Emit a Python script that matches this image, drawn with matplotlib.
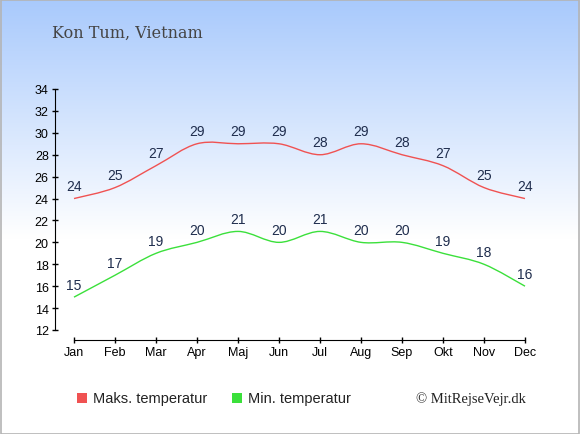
import numpy as np
import matplotlib
matplotlib.use("Agg")
import matplotlib.pyplot as plt
from matplotlib.path import Path
from matplotlib.patches import PathPatch, Rectangle

months = ["Jan", "Feb", "Mar", "Apr", "Maj", "Jun", "Jul", "Aug", "Sep", "Okt", "Nov", "Dec"]
max_temp = [24, 25, 27, 29, 29, 29, 28, 29, 28, 27, 25, 24]
min_temp = [15, 17, 19, 20, 21, 20, 21, 20, 20, 19, 18, 16]
y_ticks = list(range(12, 35, 2))

W, H = 580, 435
RED = "#f05252"
GREEN = "#3be03b"
LABEL_COLOR = "#1f2d4d"


def smooth_path(xs, ys, t=1 / 6):
    # catmull-rom style bezier through the data points
    pts = np.column_stack([xs, ys]).astype(float)
    n = len(pts)
    verts = [pts[0]]
    codes = [Path.MOVETO]
    for i in range(n - 1):
        p0 = pts[max(i - 1, 0)]
        p1 = pts[i]
        p2 = pts[i + 1]
        p3 = pts[min(i + 2, n - 1)]
        c1 = p1 + (p2 - p0) * t
        c2 = p2 - (p3 - p1) * t
        verts += [c1, c2, p2]
        codes += [Path.CURVE4] * 3
    return Path(verts, codes)


fig = plt.figure(figsize=(W / 100, H / 100), dpi=100)

# background gradient
bg = fig.add_axes([0, 0, 1, 1], zorder=-10)
grad = np.linspace(0, 1, 256)
top = np.array([0.66, 0.79, 0.99])
white = np.array([1.0, 1.0, 1.0])
frac = np.clip(grad / 0.55, 0, 1)[:, None]
img = top * (1 - frac) + white * frac
bg.imshow(img[:, None, :], aspect="auto", extent=[0, 1, 0, 1])
bg.set_xlim(0, 1)
bg.set_ylim(0, 1)
bg.axis("off")
bg.add_patch(Rectangle((0.5 / W, 0.5 / H), 1 - 1.5 / W, 1 - 1.5 / H, transform=bg.transAxes,
                       fill=False, edgecolor="#b4b4b4", lw=1.2))

# main axes
px_month = (525 - 74) / 11
px_unit = (331 - 90) / 22
left, right, ybot, ytop = 55, 532, 341, 90
ax = fig.add_axes([left / W, 1 - ybot / H, (right - left) / W, (ybot - ytop) / H])
ax.patch.set_alpha(0)
x = np.arange(len(months))
ax.set_xlim(-(74 - left) / px_month, 11 + (right - 525) / px_month)
ax.set_ylim(12 - (ybot - 331) / px_unit, 34)

for vals, col in [(max_temp, RED), (min_temp, GREEN)]:
    ax.add_patch(PathPatch(smooth_path(x, vals), facecolor="none", edgecolor=col, lw=1.0))
    for xi, v in zip(x, vals):
        ax.annotate(str(v), (xi, v), xytext=(0, 4), textcoords="offset points",
                    ha="center", va="bottom", fontsize=10, color=LABEL_COLOR,
                    family="Liberation Sans")

for s in ["top", "right"]:
    ax.spines[s].set_visible(False)
ax.spines["left"].set_bounds(12, 34)
ax.spines["bottom"].set_bounds(0, 11)
ax.set_xticks(x)
ax.set_xticklabels(months)
ax.set_yticks(y_ticks)
ax.tick_params(direction="inout", length=5, width=1, labelsize=9, pad=2)
for lab in ax.get_xticklabels() + ax.get_yticklabels():
    lab.set_family("Liberation Sans")

# title and footer
fig.text(52 / W, 1 - 38 / H, "Kon Tum, Vietnam", family="DejaVu Serif", fontsize=11.5,
         color="#454545", va="baseline", ha="left")
fig.text(526 / W, 1 - 403 / H, "\u00a9 MitRejseVejr.dk", family="Liberation Serif", fontsize=10.5,
         color="#222222", va="baseline", ha="right")

# legend
for sx, col, txt in [(77, RED, "Maks. temperatur"), (232, GREEN, "Min. temperatur")]:
    fig.patches.append(Rectangle((sx / W, 1 - 404 / H), 10 / W, 10 / H, transform=fig.transFigure,
                                 facecolor=col, edgecolor="none"))
    fig.text((sx + 16) / W, 1 - 403 / H, txt, family="Liberation Sans", fontsize=10.5,
             color="#222222", va="baseline", ha="left")

fig.savefig("out.png", dpi=100)
